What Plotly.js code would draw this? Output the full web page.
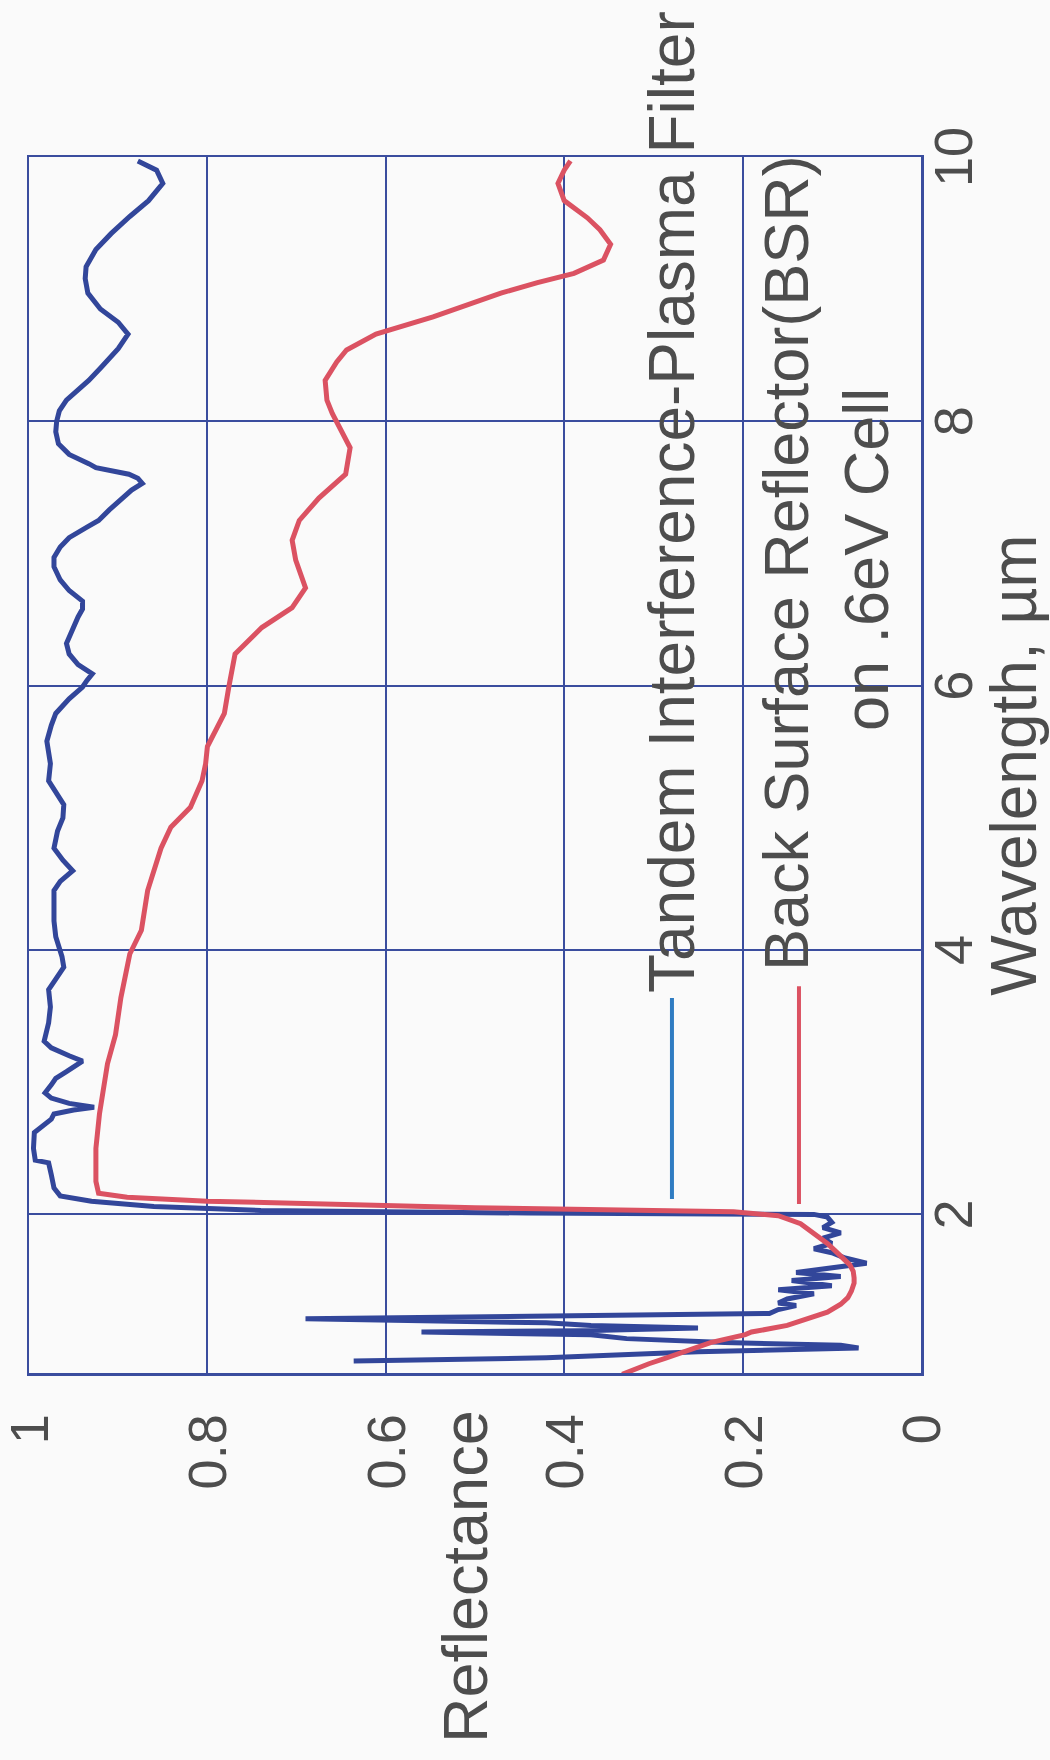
<!DOCTYPE html>
<html>
<head>
<meta charset="utf-8">
<script src="https://cdn.plot.ly/plotly-3.0.1.min.js"></script>
<style>
html,body{margin:0;padding:0;width:1050px;height:1760px;overflow:hidden;background:#fafafa;}
#chart{position:absolute;left:0;top:0;width:1760px;height:1050px;transform-origin:0 0;transform:translateY(1760px) rotate(-90deg);}
</style>
</head>
<body>
<div id="chart"></div>
<script>
// Wavelength (µm) and reflectance for the Tandem Interference-Plasma Filter
const tipfWavelength = [0.89,0.915,0.96,0.99,1.01,1.03,1.06,1.09,1.11,1.12,
  1.14,1.16,1.18,1.21,1.25,1.28,1.31,1.33,1.36,1.40,
  1.43,1.46,1.50,1.53,1.56,1.60,1.63,1.67,1.71,1.74,
  1.78,1.82,1.86,1.90,1.94,1.98,2.00,2.01,2.03,2.06,
  2.10,2.14,2.20,2.30,2.39,2.41,2.50,2.62,2.67,2.72,
  2.76,2.79,2.81,2.84,2.88,2.92,2.98,3.03,3.08,3.13,
  3.16,3.20,3.26,3.31,3.45,3.57,3.70,3.78,3.87,3.95,
  4.00,4.10,4.22,4.35,4.45,4.52,4.60,4.68,4.77,4.90,
  5.00,5.10,5.20,5.28,5.41,5.58,5.70,5.79,5.90,5.99,
  6.04,6.09,6.16,6.24,6.32,6.42,6.52,6.58,6.64,6.72,
  6.80,6.90,6.97,7.05,7.12,7.20,7.25,7.33,7.42,7.48,
  7.53,7.57,7.60,7.65,7.68,7.75,7.83,7.92,8.00,8.08,
  8.16,8.24,8.31,8.41,8.55,8.66,8.75,8.85,8.97,9.08,
  9.17,9.30,9.42,9.55,9.67,9.80,9.90,9.97];
const tipfReflectance = [0.636,0.42,0.25,0.07,0.09,0.22,0.33,0.37,0.56,0.38,
  0.25,0.37,0.42,0.69,0.17,0.16,0.14,0.16,0.15,0.12,
  0.16,0.10,0.145,0.09,0.14,0.10,0.061,0.085,0.10,0.12,
  0.10,0.11,0.09,0.11,0.10,0.105,0.12,0.44,0.74,0.86,
  0.93,0.965,0.972,0.975,0.978,0.993,0.995,0.994,0.985,0.975,
  0.972,0.95,0.927,0.955,0.975,0.982,0.975,0.970,0.958,0.945,
  0.940,0.955,0.975,0.983,0.978,0.976,0.978,0.970,0.961,0.963,
  0.965,0.970,0.972,0.972,0.972,0.965,0.951,0.962,0.972,0.968,
  0.962,0.961,0.970,0.978,0.976,0.980,0.975,0.970,0.955,0.940,
  0.935,0.929,0.945,0.955,0.958,0.952,0.945,0.940,0.940,0.955,
  0.965,0.972,0.972,0.965,0.955,0.935,0.922,0.910,0.896,0.885,
  0.873,0.878,0.888,0.925,0.933,0.955,0.967,0.970,0.969,0.966,
  0.958,0.945,0.933,0.919,0.900,0.889,0.900,0.920,0.934,0.937,
  0.936,0.925,0.908,0.887,0.866,0.850,0.857,0.878];

// Wavelength (µm) and reflectance for the Back Surface Reflector on .6eV cell
const bsrWavelength = [0.79,0.81,0.87,0.91,0.96,0.99,1.03,1.09,1.11,1.16,
  1.22,1.26,1.32,1.37,1.42,1.48,1.52,1.57,1.62,1.67,
  1.73,1.78,1.82,1.86,1.93,1.99,2.02,2.05,2.08,2.10,
  2.13,2.16,2.25,2.50,2.76,3.14,3.36,3.64,3.97,4.15,
  4.45,4.77,4.93,5.08,5.28,5.41,5.54,5.79,5.99,6.24,
  6.44,6.59,6.74,6.95,7.10,7.25,7.42,7.60,7.80,8.06,
  8.16,8.31,8.45,8.54,8.66,8.79,8.97,9.05,9.12,9.22,
  9.34,9.45,9.54,9.67,9.80,9.90,9.97];
const bsrReflectance = [0.335,0.328,0.305,0.287,0.265,0.25,0.236,0.197,0.19,0.15,
  0.125,0.105,0.09,0.082,0.078,0.075,0.075,0.076,0.08,0.087,
  0.097,0.105,0.113,0.12,0.135,0.16,0.21,0.50,0.70,0.80,
  0.89,0.922,0.925,0.925,0.921,0.912,0.903,0.897,0.887,0.874,
  0.867,0.852,0.841,0.819,0.806,0.802,0.800,0.781,0.776,0.769,
  0.739,0.705,0.690,0.701,0.705,0.697,0.675,0.645,0.640,0.660,
  0.666,0.668,0.655,0.644,0.611,0.547,0.471,0.43,0.389,0.356,
  0.348,0.36,0.374,0.40,0.407,0.40,0.393];

const seriesNames = ["Tandem Interference-Plasma Filter", "Back Surface Reflector(BSR)", "on .6eV Cell"];
const xTickVals = [2, 4, 6, 8, 10];
const yTickVals = [0, 0.2, 0.4, 0.6, 0.8, 1];
const yTickText = ["0", "0.2", "0.4", "0.6", "0.8", "1"];
const xTitle = "Wavelength, \u00b5m";
const yTitle = "Reflectance";

const FONT = '"Liberation Sans", Arial, sans-serif';
const TXT = '#4d4d4d';
const GRID = '#3a4d9e';
const BLUE = '#32469a';
const RED = '#db5262';
const LEG_BLUE = '#2f7cc2';

const traces = [
  {x: tipfWavelength, y: tipfReflectance, type: 'scatter', mode: 'lines', name: seriesNames[0],
   line: {color: BLUE, width: 5}, showlegend: false},
  {x: bsrWavelength, y: bsrReflectance, type: 'scatter', mode: 'lines', name: seriesNames[1] + ' ' + seriesNames[2],
   line: {color: RED, width: 5}, showlegend: false}
];

const layout = {
  width: 1760, height: 1050,
  margin: {l: 387, r: 157, t: 29, b: 129, pad: 0},
  paper_bgcolor: 'rgba(0,0,0,0)', plot_bgcolor: 'rgba(0,0,0,0)',
  font: {family: FONT, color: TXT},
  showlegend: false,
  xaxis: {
    range: [0.8, 10], tickvals: xTickVals, ticktext: xTickVals.map(String),
    showgrid: true, gridcolor: GRID, gridwidth: 2,
    showline: true, mirror: true, linecolor: GRID, linewidth: 2.5, zeroline: false,
    ticks: '', ticklabelstandoff: -16, ticklabeloverflow: 'allow',
    tickfont: {size: 54, family: FONT, color: TXT},
    title: {text: xTitle, font: {size: 64, family: FONT, color: TXT}, standoff: 14}
  },
  yaxis: {
    range: [0, 1], tickvals: yTickVals, ticktext: yTickText,
    showgrid: true, gridcolor: GRID, gridwidth: 2,
    showline: true, mirror: true, linecolor: GRID, linewidth: 2.5, zeroline: false,
    ticks: 'outside', ticklen: 28, tickcolor: 'rgba(0,0,0,0)', ticklabeloverflow: 'allow',
    tickfont: {size: 54, family: FONT, color: TXT}
  },
  annotations: [
    {text: yTitle, xref: 'paper', yref: 'paper', x: -0.306, y: 0.5107, xanchor: 'left', yanchor: 'middle',
     showarrow: false, font: {size: 63, family: FONT, color: TXT}},
    {text: seriesNames[0], xref: 'paper', yref: 'paper', x: 0.3110, y: 0.2792, xanchor: 'left', yanchor: 'middle',
     showarrow: false, font: {size: 64, family: FONT, color: TXT}},
    {text: seriesNames[1], xref: 'paper', yref: 'paper', x: 0.3290, y: 0.1519, xanchor: 'left', yanchor: 'middle',
     showarrow: false, font: {size: 63, family: FONT, color: TXT}},
    {text: seriesNames[2], xref: 'paper', yref: 'paper', x: 0.5263, y: 0.0620, xanchor: 'left', yanchor: 'middle',
     showarrow: false, font: {size: 63, family: FONT, color: TXT}}
  ],
  shapes: [
    {type: 'line', xref: 'paper', yref: 'paper', x0: 0.1431, x1: 0.3084, y0: 0.2792, y1: 0.2792,
     line: {color: LEG_BLUE, width: 4}},
    {type: 'line', xref: 'paper', yref: 'paper', x0: 0.139, x1: 0.318, y0: 0.1368, y1: 0.1368,
     line: {color: RED, width: 4}}
  ]
};

Plotly.newPlot('chart', traces, layout, {displayModeBar: false, staticPlot: true});
</script>
</body>
</html>
